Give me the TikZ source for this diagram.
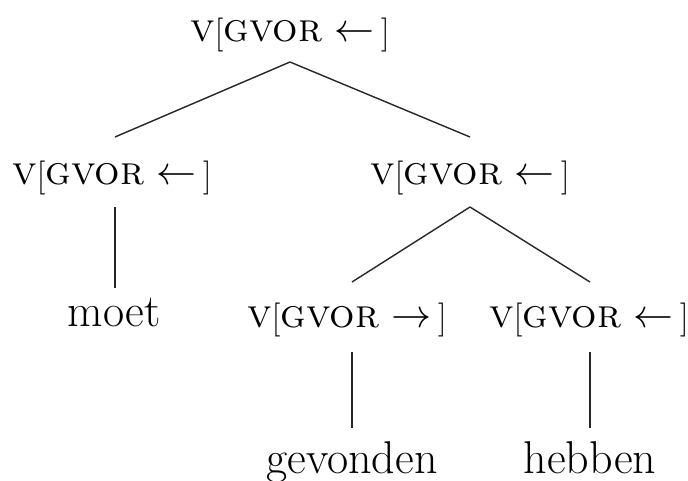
\RequirePackage{fix-cm}
\documentclass[tikz,border=0pt]{standalone}
\usepackage{fontspec}
\begin{document}
\begin{tikzpicture}[x=1pt,y=-1pt,
  lab/.style={inner sep=0pt,anchor=base,font=\fontsize{40}{48}\selectfont},
  word/.style={inner sep=0pt,anchor=base,font=\fontsize{46}{54}\selectfont},
  edge/.style={line width=1.4pt,draw=black!85}]
\useasboundingbox (0,0) rectangle (688,481);
\newcommand{\brk}[1]{\raisebox{-1.5pt}{\fontsize{34}{38}\selectfont#1}}
\newcommand{\cat}[1]{\textsc{v}\brk{[}\textsc{gvor}\ $#1$\,\brk{]}}
\node[lab] (top) at (290,42) {\cat{\leftarrow}};
\node[lab] (lm) at (112,185) {\cat{\leftarrow}};
\node[lab] (rm) at (470,185) {\cat{\leftarrow}};
\node[word] (moet) at (114,326) {moet};
\node[lab] (rl) at (347,327) {\cat{\rightarrow}};
\node[lab] (rr) at (589,327) {\cat{\leftarrow}};
\node[word] (gev) at (352,473) {gevonden};
\node[word] (heb) at (590,473) {hebben};
\coordinate (t1) at (290,62);
\coordinate (l1) at (115,137);
\coordinate (r1) at (470,137);
\coordinate (l2) at (115,207);
\coordinate (l3) at (115,288);
\coordinate (r2) at (470,207);
\coordinate (a1) at (352,282);
\coordinate (b1) at (590,282);
\coordinate (a2) at (352,352);
\coordinate (a3) at (352,428);
\coordinate (b2) at (590,352);
\coordinate (b3) at (590,428);
\draw[edge] (t1) -- (l1);
\draw[edge] (t1) -- (r1);
\draw[edge] (l2) -- (l3);
\draw[edge] (r2) -- (a1);
\draw[edge] (r2) -- (b1);
\draw[edge] (a2) -- (a3);
\draw[edge] (b2) -- (b3);
\end{tikzpicture}
\end{document}
